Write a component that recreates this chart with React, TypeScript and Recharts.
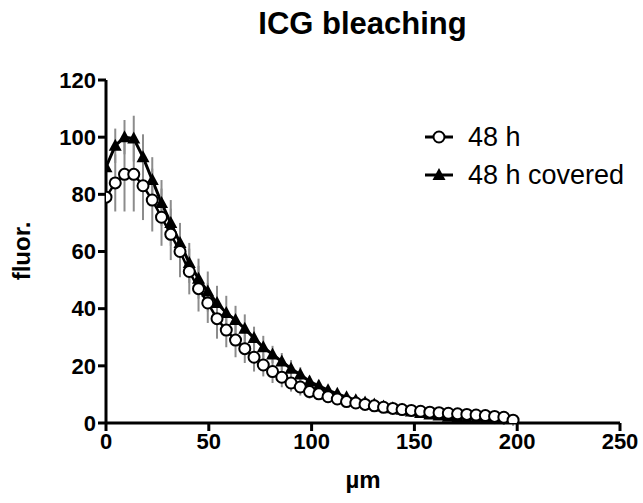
import { ErrorBar, Line, LineChart, XAxis, YAxis } from 'recharts'

const FONT = "Arial, 'Liberation Sans', Helvetica, sans-serif"

// distance in µm
const depth = [
  0, 4.5, 9, 13.5, 18, 22.5, 27, 31.5, 36, 40.5, 45, 49.5, 54, 58.5, 63, 67.5, 72, 76.5, 81, 85.5, 90, 94.5, 99,
  103.5, 108, 112.5, 117, 121.5, 126, 130.5, 135, 139.5, 144, 148.5, 153, 157.5, 162, 166.5, 171, 175.5, 180, 184.5,
  189, 193.5, 198,
]

// 48 h (open circles)
const open48 = [
  79, 84, 87, 87, 83, 78, 72, 66, 60, 53, 47, 42, 36.5, 32.5, 29, 26, 23, 20.3, 18, 16, 14, 12.6, 11, 10.2, 9.2, 8.4,
  7.5, 7, 6.5, 6, 5.5, 5.1, 4.7, 4.4, 4.1, 3.8, 3.6, 3.4, 3.2, 3, 2.8, 2.6, 2.3, 2, 1,
]
const open48Err = [
  4, 10, 13, 13, 12, 11, 10, 9, 9, 8, 8, 7, 7, 6, 6, 5, 5, 4, 4, 3.5, 3, 3, 2.5, 2, 2, 1.5, 1.5, 1, 1, 1, 1, 1, 1, 1, 1,
  1, 1, 1, 1, 1, 1, 1, 1, 1, 1,
]

// 48 h covered (filled triangles)
const covered48 = [
  89.5, 97, 100, 99.5, 93, 85, 77, 70, 63, 56, 50.5, 46, 42, 38.5, 36, 33, 29.7, 26.5, 24, 21.5, 19, 17, 14.5, 13,
  11.5, 10.2, 9, 8, 7.2, 6.5, 5.8, 5.2, 4.6, 4, 3.5, 3, 2.6, 2.2, 1.8, 1.5, 1.2, 0.9, 0.6, 0.3, 0,
]
const covered48Err = [
  4, 6, 6, 8, 8, 8, 8, 8, 7, 7, 7, 7, 6, 6, 5, 5, 4, 4, 3, 3, 3, 2.5, 2, 2, 1.5, 1, 1, 1, 1, 1, 1, 1, 1, 1, 1, 1, 1, 1,
  1, 1, 1, 1, 1, 1, 1,
]

const xTicks = [0, 50, 100, 150, 200, 250]
const yTicks = [0, 20, 40, 60, 80, 100, 120]

const rows = depth.map((x, i) => ({
  x,
  open: open48[i],
  openErr: open48Err[i],
  covered: covered48[i],
  coveredErr: covered48Err[i],
}))

const Triangle = (p: any) => {
  const { cx, cy, index } = p
  if (cx == null || cy == null) return <g key={`t-${index}`} />
  return <polygon key={`t-${index}`} points={`${cx},${cy - 7} ${cx - 6.5},${cy + 5} ${cx + 6.5},${cy + 5}`} fill="#000" />
}

function LegendBox() {
  return (
    <svg width={220} height={70} style={{ position: 'absolute', left: 415, top: 125, overflow: 'visible' }}>
      <g>
        <line x1={10} x2={38} y1={12} y2={12} stroke="#000" strokeWidth={3} />
        <circle cx={24} cy={12} r={5.5} fill="#fff" stroke="#000" strokeWidth={2} />
        <text x={53} y={21} fontSize={27} fontFamily={FONT} fill="#000">48 h</text>
      </g>
      <g>
        <line x1={10} x2={38} y1={50} y2={50} stroke="#000" strokeWidth={3} />
        <polygon points="24,43 17.5,55 30.5,55" fill="#000" />
        <text x={53} y={59} fontSize={27} fontFamily={FONT} fill="#000">48 h covered</text>
      </g>
    </svg>
  )
}

export default function App() {
  const tick = { fill: '#000', fontSize: 22, fontWeight: 700, fontFamily: FONT }
  return (
    <div style={{ position: 'absolute', left: 0, top: 0, width: 643, height: 503, background: '#fff', fontFamily: FONT }}>
      <div style={{ position: 'absolute', left: 0, width: 725, top: 6, textAlign: 'center', fontSize: 31, fontWeight: 700 }}>
        ICG bleaching
      </div>
      <div
        style={{
          position: 'absolute',
          left: 22,
          top: 251,
          fontSize: 24,
          fontWeight: 700,
          transform: 'translate(-50%, -50%) rotate(-90deg)',
          whiteSpace: 'nowrap',
        }}
      >
        fluor.
      </div>
      <div style={{ position: 'absolute', left: 0, width: 726, top: 466, textAlign: 'center', fontSize: 24, fontWeight: 700 }}>
        µm
      </div>
      <LineChart width={643} height={503} data={rows} margin={{ top: 80, right: 23, bottom: 50, left: 0 }}>
        <XAxis
          dataKey="x"
          type="number"
          domain={[0, 250]}
          ticks={xTicks}
          height={30}
          tick={tick}
          tickSize={8}
          tickMargin={2}
          stroke="#000"
          strokeWidth={3}
          allowDataOverflow
        />
        <YAxis
          type="number"
          domain={[0, 120]}
          ticks={yTicks}
          width={106}
          tick={tick}
          tickSize={8}
          tickMargin={2}
          stroke="#000"
          strokeWidth={3}
          allowDataOverflow
        />
        <Line
          dataKey="covered"
          stroke="#000"
          strokeWidth={3}
          dot={Triangle}
          activeDot={false}
          isAnimationActive={false}
        >
          <ErrorBar dataKey="coveredErr" direction="y" width={0} stroke="#8c8c8c" strokeWidth={2} />
        </Line>
        <Line
          dataKey="open"
          stroke="#000"
          strokeWidth={2.5}
          dot={{ r: 5.5, fill: '#fff', stroke: '#000', strokeWidth: 2 }}
          activeDot={false}
          isAnimationActive={false}
        >
          <ErrorBar dataKey="openErr" direction="y" width={0} stroke="#8c8c8c" strokeWidth={2} />
        </Line>
      </LineChart>
      <LegendBox />
    </div>
  )
}
